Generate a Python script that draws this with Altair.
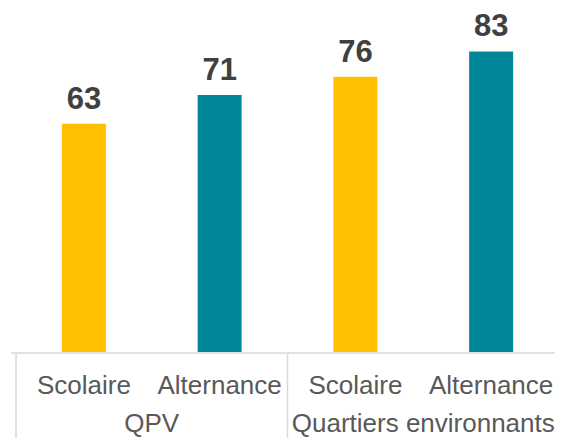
import altair as alt
import pandas as pd

categories = ["Scolaire", "Alternance", "Scolaire", "Alternance"]
groups = ["QPV", "QPV", "Quartiers environnants", "Quartiers environnants"]
values = [63, 71, 76, 83]
colors = ["#FFC000", "#00889A", "#FFC000", "#00889A"]
group_names = ["QPV", "Quartiers environnants"]

df = pd.DataFrame({
    "pos": list(range(len(values))),
    "category": categories,
    "group": groups,
    "value": values,
    "color": colors,
})

gdf = pd.DataFrame({
    "group": group_names,
    "center": [df[df.group == g].pos.mean() for g in group_names],
    "left": [df[df.group == g].pos.min() - 0.5 for g in group_names],
})

xs = alt.Scale(domain=[-0.5, 3.5], range=[0, 553], nice=False, zero=False)
ys = alt.Scale(domain=[0, 95], nice=False)
FONT = "Liberation Sans"

bars = alt.Chart(df).mark_bar(size=44).encode(
    x=alt.X("pos:Q", scale=xs, axis=None),
    y=alt.Y("value:Q", scale=ys, axis=None),
    color=alt.Color("color:N", scale=None),
)

labels = alt.Chart(df).mark_text(
    font=FONT, fontSize=31, fontWeight="bold", color="#404040", baseline="alphabetic", dy=-15
).encode(
    x=alt.X("pos:Q", scale=xs),
    y=alt.Y("value:Q", scale=ys),
    text=alt.Text("value:Q"),
)

hline = alt.Chart(alt.Data(values=[{}])).mark_rule(color="#D9D9D9", strokeWidth=1.5).encode(
    x=alt.value(0), x2=alt.value(560), y=alt.value(345), y2=alt.value(345)
)

vlines = alt.Chart(gdf).mark_rule(color="#D9D9D9", strokeWidth=1.5).encode(
    x=alt.X("left:Q", scale=xs),
    y=alt.value(345),
    y2=alt.value(440),
)

cat_text = alt.Chart(df).mark_text(
    font=FONT, fontSize=26, color="#595959", baseline="alphabetic"
).encode(
    x=alt.X("pos:Q", scale=xs),
    y=alt.value(386),
    text="category:N",
)

grp_text = alt.Chart(gdf).mark_text(
    font=FONT, fontSize=26, color="#595959", baseline="alphabetic"
).encode(
    x=alt.X("center:Q", scale=xs),
    y=alt.value(424),
    text="group:N",
)

chart = alt.layer(bars, labels, hline, vlines, cat_text, grp_text).properties(
    width=544,
    height=344,
    autosize=alt.AutoSizeParams(type="none"),
    padding={"left": 3, "top": 0, "right": 0, "bottom": 86},
).configure_view(stroke=None)

chart.save("out.html", embed_options={"renderer": "svg", "actions": False})
